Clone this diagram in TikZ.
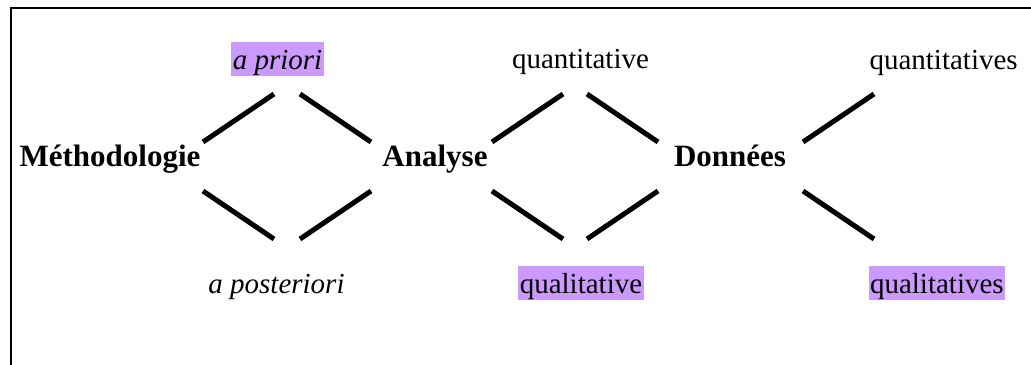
\documentclass[tikz,border=0pt]{standalone}
\usepackage{fontspec}
\setmainfont{Liberation Serif}
\usetikzlibrary{positioning}

\definecolor{lilas}{RGB}{204,153,255}

\begin{document}
\begin{tikzpicture}[
    x=0.4pt, y=-0.4pt,
    word/.style={font=\fontsize{11.6}{14}\selectfont, inner sep=0pt, anchor=base},
    pole/.style={word, font=\fontsize{12.4}{14}\selectfont\bfseries},
    hl/.style={fill=lilas, inner xsep=0.6pt, inner ysep=0pt, text height=11.2pt, text depth=2.4pt},
    bar/.style={line width=2pt},
    frame/.style={line width=0.8pt},
]
\useasboundingbox (0,0) rectangle (1031,365);
\clip (0,0) rectangle (1031,365);
% ============================================================
% frame (runs past the right and bottom edges)
% ============================================================
\draw[frame] (11,8) rectangle (1050,380);
% ============================================================
% main terms
% ============================================================
\node[pole] (meth) at (110,167) {Méthodologie};
\node[pole] (ana) at (435,167) {Analyse};
\node[pole] (don) at (730,167) {Données};
% --- branches ---
\node[word, hl] (prio) at (277.5,70) {\itshape a priori};
\node[word] (post) at (276.5,293) {\itshape a posteriori};
\node[word] (quant) at (580.5,69) {quantitative};
\node[word, hl] (qual) at (581,294) {qualitative};
\node[word, anchor=base west] (quants) at (869,70) {quantitatives};
\node[word, hl, anchor=base west] (quals) at (868,294) {qualitatives};
% ============================================================
% bars: left half of each fork, then right half of the two diamonds
% ============================================================
\foreach \x/\i in {203/1, 492/2, 803/3} {
    \coordinate (in\i up) at (\x,142);
    \coordinate (in\i dn) at (\x,191);
    \coordinate (tip\i up) at (\x+71,94);
    \coordinate (tip\i dn) at (\x+71,239);
    \draw[bar] (in\i up) -- (tip\i up);
    \draw[bar] (in\i dn) -- (tip\i dn);
}
\foreach \x/\i in {371/1, 658/2} {
    \coordinate (out\i up) at (\x,142);
    \coordinate (out\i dn) at (\x,191);
    \coordinate (back\i up) at (\x-71,94);
    \coordinate (back\i dn) at (\x-71,239);
    \draw[bar] (back\i up) -- (out\i up);
    \draw[bar] (back\i dn) -- (out\i dn);
}
\end{tikzpicture}
\end{document}
